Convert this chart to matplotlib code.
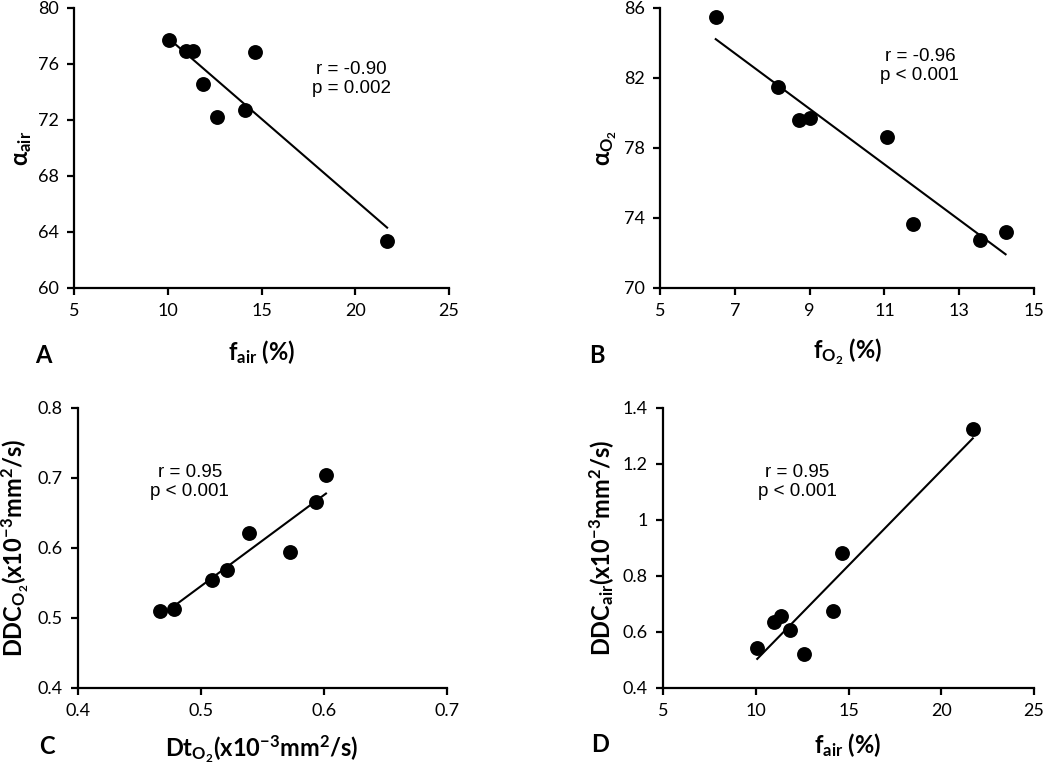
import numpy as np
import matplotlib
matplotlib.use("Agg")
import matplotlib.pyplot as plt

plt.rcParams['font.family'] = ['Lato', 'DejaVu Sans']
plt.rcParams['mathtext.fontset'] = 'custom'
plt.rcParams['mathtext.rm'] = 'Lato'
plt.rcParams['mathtext.bf'] = 'Lato:bold'
plt.rcParams['mathtext.it'] = 'Lato:italic'

# ---- data ----
f_air = [10.08, 10.98, 11.34, 14.67, 11.87, 12.60, 14.14, 21.70]
alpha_air = [77.74, 76.90, 76.90, 76.83, 74.60, 72.21, 72.74, 63.38]

f_o2 = [6.49, 8.15, 8.72, 9.01, 11.06, 11.77, 13.56, 14.24]
alpha_o2 = [85.47, 81.49, 79.58, 79.71, 78.61, 73.68, 72.72, 73.20]

dt_o2 = [0.4664, 0.4778, 0.5090, 0.5211, 0.5393, 0.5724, 0.5935, 0.6016]
ddc_o2 = [0.5099, 0.5122, 0.5536, 0.5679, 0.6216, 0.5950, 0.6654, 0.7049]

ddc_air = [0.544, 0.635, 0.656, 0.883, 0.606, 0.520, 0.675, 1.325]

stats_A = "r = -0.90\np = 0.002"
stats_B = "r = -0.96\np < 0.001"
stats_C = "r = 0.95\np < 0.001"
stats_D = "r = 0.95\np < 0.001"

W, H = 1050, 774
fig = plt.figure(figsize=(W / 100, H / 100), dpi=100)


def ax_px(l, t, r, b):
    return fig.add_axes([l / W, 1 - b / H, (r - l) / W, (b - t) / H])


panels = [
    dict(box=(74, 8, 449, 288), x=f_air, y=alpha_air, xlim=(5, 25), xt=[5, 10, 15, 20, 25],
         ylim=(60, 80), yt=[60, 64, 68, 72, 76, 80], ytl=None, xtl=None,
         xl=r'f$_{\mathbf{air}}$ (%)', yl=r'$\mathbf{\alpha}_{\mathbf{air}}$',
         stats=stats_A, sxy=(19.8, 74.95), letter='A', lxy=(43, 355),
         xlxy=(262, 352), ylxy=(22, 148)),
    dict(box=(660, 8, 1034, 288), x=f_o2, y=alpha_o2, xlim=(5, 15), xt=[5, 7, 9, 11, 13, 15],
         ylim=(70, 86), yt=[70, 74, 78, 82, 86], ytl=None, xtl=None,
         xl=r'f$_{\mathbf{O_2}}$ (%)', yl=r'$\mathbf{\alpha}_{\mathbf{O_2}}$',
         stats=stats_B, sxy=(11.95, 82.67), letter='B', lxy=(597, 355),
         xlxy=(848, 352), ylxy=(607, 148)),
    dict(box=(78, 408, 447, 688), x=dt_o2, y=ddc_o2, xlim=(0.4, 0.7), xt=[0.4, 0.5, 0.6, 0.7],
         ylim=(0.4, 0.8), yt=[0.4, 0.5, 0.6, 0.7, 0.8], ytl=None, xtl=None,
         xl=r'Dt$_{\mathbf{O_2}}$(x10$^{\mathbf{-3}}$mm$^{\mathbf{2}}$/s)',
         yl=r'DDC$_{\mathbf{O_2}}$(x10$^{\mathbf{-3}}$mm$^{\mathbf{2}}$/s)',
         stats=stats_C, sxy=(0.491, 0.694), letter='C', lxy=(47, 747),
         xlxy=(262, 749), ylxy=(15, 548)),
    dict(box=(663, 408, 1034, 688), x=f_air, y=ddc_air, xlim=(5, 25), xt=[5, 10, 15, 20, 25],
         ylim=(0.4, 1.4), yt=[0.4, 0.6, 0.8, 1.0, 1.2, 1.4], ytl=['0.4', '0.6', '0.8', '1', '1.2', '1.4'],
         xtl=None,
         xl=r'f$_{\mathbf{air}}$ (%)',
         yl=r'DDC$_{\mathbf{air}}$(x10$^{\mathbf{-3}}$mm$^{\mathbf{2}}$/s)',
         stats=stats_D, sxy=(12.25, 1.135), letter='D', lxy=(600, 745),
         xlxy=(848, 745), ylxy=(602, 548)),
]

for p in panels:
    ax = ax_px(*p['box'])
    x = np.array(p['x'])
    y = np.array(p['y'])
    ax.scatter(x, y, s=115, color='black', zorder=3, linewidths=0)
    k, b0 = np.polyfit(x, y, 1)
    xs = np.array([x.min(), x.max()])
    ax.plot(xs, k * xs + b0, color='black', lw=1.5, zorder=2)
    ax.set_xlim(*p['xlim'])
    ax.set_ylim(*p['ylim'])
    ax.set_xticks(p['xt'])
    ax.set_yticks(p['yt'])
    if p['ytl']:
        ax.set_yticklabels(p['ytl'])
    else:
        ax.set_yticklabels([('%g' % v) for v in p['yt']])
    ax.set_xticklabels([('%g' % v) for v in p['xt']])
    for s in ['top', 'right']:
        ax.spines[s].set_visible(False)
    for s in ['left', 'bottom']:
        ax.spines[s].set_linewidth(1.6)
        ax.spines[s].set_color('black')
    ax.tick_params(direction='out', length=5, width=1.6, labelsize=13, colors='black', pad=6)
    ax.set_clip_on(False)
    for c in ax.collections:
        c.set_clip_on(False)
    ax.text(p['sxy'][0], p['sxy'][1], p['stats'], ha='center', va='center',
            fontsize=13.5, family=['Liberation Sans', 'DejaVu Sans'], linespacing=1.15)
    fig.text(p['xlxy'][0] / W, 1 - p['xlxy'][1] / H, p['xl'], ha='center', va='center',
             fontsize=17, fontweight='bold')
    fig.text(p['ylxy'][0] / W, 1 - p['ylxy'][1] / H, p['yl'], ha='center', va='center',
             fontsize=17, fontweight='bold', rotation=90)
    fig.text(p['lxy'][0] / W, 1 - p['lxy'][1] / H, p['letter'], ha='center', va='center',
             fontsize=17, fontweight='bold')

fig.savefig('out.png', dpi=100)
